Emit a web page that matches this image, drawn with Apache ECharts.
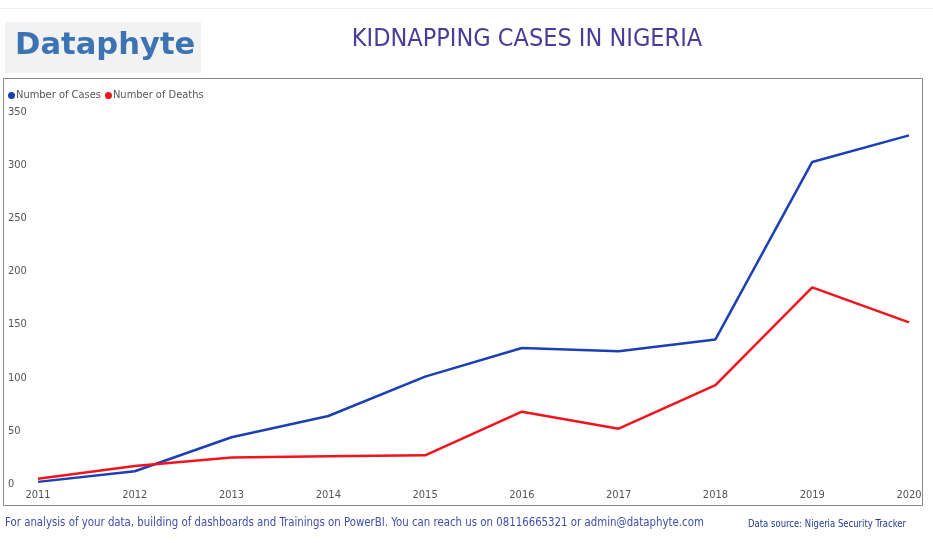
<!DOCTYPE html>
<html><head><meta charset="utf-8">
<script src="https://cdn.jsdelivr.net/npm/echarts@6/dist/echarts.min.js"></script>
<style>html,body{margin:0;padding:0;background:#fff}#c{width:933px;height:543px}</style>
</head><body><div id="c"></div>
<script>
const years = ['2011','2012','2013','2014','2015','2016','2017','2018','2019','2020'];
const cases = [2, 12, 44, 64, 101, 128, 125, 136, 303, 328];
const deaths = [5, 17, 25, 26, 27, 68, 52, 93, 185, 152];
const yTicks = [0, 50, 100, 150, 200, 250, 300, 350];

const F = '"Liberation Sans Narrow","DejaVu Sans Condensed",sans-serif';
const chart = echarts.init(document.getElementById('c'));
chart.setOption({
  animation: false,
  backgroundColor: '#fff',
  title: {
    text: 'KIDNAPPING CASES IN NIGERIA', left: 522, top: 22, textAlign: 'center',
    textStyle: {color: '#4a3d9a', fontSize: 25, fontWeight: 'normal', fontFamily: F}
  },
  legend: {
    left: 3, top: 85, itemWidth: 7, itemHeight: 7, itemGap: 4, icon: 'circle',
    textStyle: {color: '#555', fontSize: 11, fontFamily: F, padding: [0,0,0,-4]},
    data: ['Number of Cases', 'Number of Deaths']
  },
  graphic: [
    {type: 'line', shape: {x1: 0, y1: 8.5, x2: 933, y2: 8.5}, style: {stroke: '#eee', lineWidth: 1}},
    {type: 'rect', shape: {x: 5, y: 22, width: 196, height: 51}, style: {fill: '#f2f2f2'}},
    {type: 'text', x: 15, y: 31, scaleX: 1.02, style: {text: 'Dataphyte', fill: '#3b73b3', fontSize: 30, fontWeight: 'bold', fontFamily: '"DejaVu Sans",sans-serif'}},
    {type: 'rect', shape: {x: 3.5, y: 78.5, width: 919, height: 427}, style: {fill: 'none', stroke: '#888', lineWidth: 1}},
    {type: 'text', x: 5, y: 516, scaleX: 0.872, style: {text: 'For analysis of your data, building of dashboards and Trainings on PowerBI. You can reach us on 08116665321 or admin@dataphyte.com', fill: '#3f4ea6', fontSize: 13, fontFamily: F}},
    {type: 'text', x: 748, y: 519, scaleX: 0.9, style: {text: 'Data source: Nigeria Security Tracker', fill: '#1f3a8a', fontSize: 10.5, fontFamily: F}}
  ],
  grid: {left: 38, right: 24, top: 112, bottom: 59, containLabel: false},
  xAxis: {
    type: 'category', data: years, boundaryGap: false,
    axisLine: {show: false}, axisTick: {show: false},
    axisLabel: {color: '#555', fontSize: 11, fontFamily: F, margin: 6, interval: 0}
  },
  yAxis: {
    type: 'value', min: 0, max: 350, interval: 50,
    splitLine: {show: false}, axisLine: {show: false}, axisTick: {show: false},
    axisLabel: {color: '#555', fontSize: 11, fontFamily: F, align: 'left', margin: 30,
      formatter: v => yTicks.includes(v) ? String(v) : ''}
  },
  series: [
    {name: 'Number of Cases', type: 'line', data: cases, color: '#1c3fb5', symbol: 'none', lineStyle: {width: 2.5}},
    {name: 'Number of Deaths', type: 'line', data: deaths, color: '#f2141c', symbol: 'none', lineStyle: {width: 2.5}}
  ]
});
</script></body></html>
